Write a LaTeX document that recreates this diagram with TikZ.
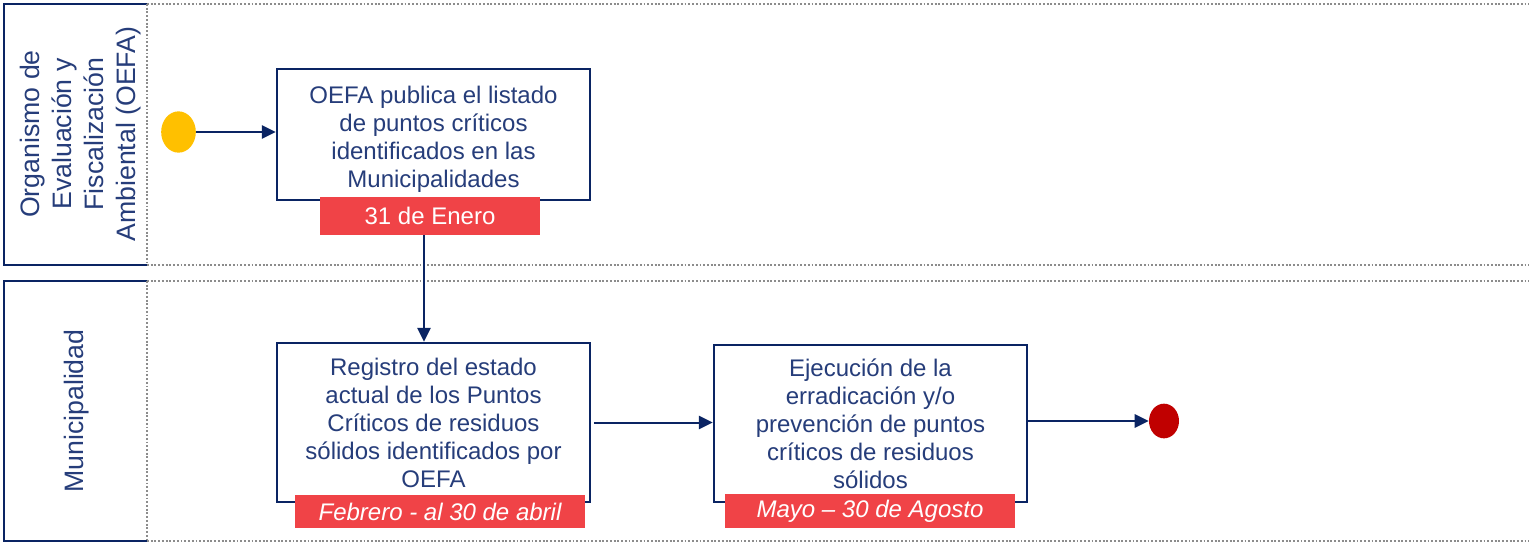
\documentclass[tikz,border=0pt]{standalone}
\usepackage{fontspec}
\setmainfont{Liberation Sans}
\usetikzlibrary{shapes.geometric,arrows.meta}
\definecolor{navy}{HTML}{0A2463}
\definecolor{txtblue}{HTML}{263D7A}
\definecolor{tagred}{HTML}{F04347}
\definecolor{startyel}{HTML}{FFC000}
\definecolor{endred}{HTML}{C00000}
\definecolor{lanegray}{HTML}{8C8C8C}
\tikzset{
  lanehead/.style={draw=navy,line width=1.8pt},
  laneline/.style={draw=lanegray,line width=1.3pt,dash pattern=on 1.4pt off 1.4pt},
  lanetext/.style={text=txtblue,font=\fontsize{20}{24}\selectfont,align=center,rotate=90},
  taskbox/.style={draw=navy,line width=1.8pt,fill=white,minimum width=234.75pt,text=txtblue,align=center,font=\fontsize{18}{21}\selectfont,inner sep=0pt},
  datetag/.style={fill=tagred,text=white,align=center,inner sep=0pt,font=\fontsize{18}{21}\selectfont},
  flow/.style={draw=navy,line width=1.5pt,-{Triangle[length=10.5pt,width=10pt]}},
}
\begin{document}
\begin{tikzpicture}[x=0.75pt,y=-0.75pt]
\useasboundingbox (0,0) rectangle (1529,544);
% lanes
\draw[laneline] (147,4) -- (1529,4);
\draw[laneline] (147,265) -- (1529,265);
\draw[laneline] (147,281) -- (1529,281);
\draw[laneline] (147,541) -- (1529,541);
\draw[lanehead] (147,4) -- (4,4) -- (4,265) -- (147,265);
\draw[lanehead] (147,281) -- (4,281) -- (4,541) -- (147,541);
\draw[laneline] (147,4) -- (147,265);
\draw[laneline] (147,281) -- (147,541);
\node[lanetext] (l1) at (81,134) {Organismo de\\Evaluación y\\Fiscalización\\Ambiental (OEFA)};
\node[lanetext] (l2) at (77,411) {Municipalidad};
% events
\node[ellipse,fill=startyel,minimum width=26pt,minimum height=31pt,inner sep=0pt] (start) at (178.5,132) {};
\node[ellipse,fill=endred,minimum width=22.5pt,minimum height=26pt,inner sep=0pt] (end) at (1164,421) {};
% tasks
\node[taskbox,minimum height=98.25pt] (b1) at (433.5,134.5) {\rule{0pt}{20pt}OEFA publica el listado\\de puntos críticos\\identificados en las\\Municipalidades};
\node[taskbox,minimum height=119.25pt] (b2) at (433.5,422.5) {Registro del estado\\actual de los Puntos\\Críticos de residuos\\sólidos identificados por\\OEFA};
\node[taskbox,minimum height=117.75pt] (b3) at (870.5,423.5) {Ejecución de la\\erradicación y/o\\prevención de puntos\\críticos de residuos\\sólidos};
% date tags
\node[datetag,minimum width=165pt,minimum height=28.5pt] (d1) at (430,216) {31 de Enero};
\node[datetag,minimum width=217.5pt,minimum height=25pt] (d2) at (440,511.5) {\itshape Febrero - al 30 de abril};
\node[datetag,minimum width=217.5pt,minimum height=25pt] (d3) at (870,511) {\itshape Mayo – 30 de Agosto};
% flows
\draw[flow] (start.east) -- (start.east -| b1.west);
\draw[flow] ([xshift=-4.5pt]d1.south) -- ([xshift=-4.5pt]d1.south |- b2.north);
\draw[flow] ([xshift=2pt]b2.east) -- (b2.east -| b3.west);
\draw[flow] (b3.east |- end.west) -- (end.west);
\end{tikzpicture}
\end{document}
